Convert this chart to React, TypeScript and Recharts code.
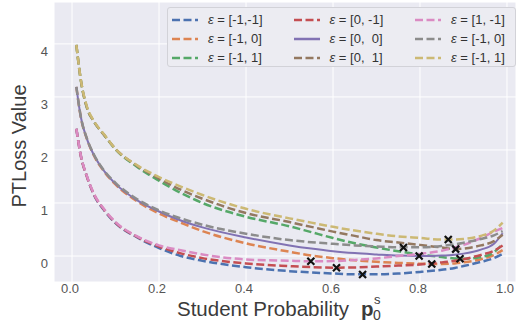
import React from "react";
import { CartesianGrid, ComposedChart, Legend, Line, Scatter, XAxis, YAxis } from "recharts";

const FONT = '"Liberation Sans", Arial, sans-serif';
const DASH = "8 3.5";

// student probability samples
const probs = [0.01, 0.02, 0.035, 0.05, 0.075, 0.1, 0.15, 0.2, 0.25, 0.3, 0.4, 0.5, 0.55, 0.6, 0.65, 0.7, 0.75, 0.8, 0.85, 0.88, 0.9, 0.94, 0.97, 0.99];

const lossBlue = [2.4, 1.9, 1.48, 1.16, 0.85, 0.62, 0.35, 0.15, 0.0, -0.09, -0.21, -0.285, -0.31, -0.33, -0.345, -0.345, -0.33, -0.3, -0.26, -0.225, -0.19, -0.11, -0.04, 0.04];
const lossOrange = [3.19, 2.63, 2.19, 1.9, 1.58, 1.35, 1.03, 0.8, 0.63, 0.47, 0.24, 0.08, 0.01, -0.04, -0.08, -0.11, -0.13, -0.145, -0.15, -0.14, -0.12, -0.06, 0.02, 0.11];
const lossGreen = [3.98, 3.33, 2.78, 2.54, 2.27, 2.01, 1.68, 1.42, 1.19, 1.0, 0.74, 0.56, 0.45, 0.34, 0.24, 0.16, 0.09, 0.03, -0.02, -0.045, -0.05, -0.02, 0.07, 0.23];
const lossRed = [2.4, 1.9, 1.48, 1.17, 0.86, 0.63, 0.36, 0.18, 0.05, -0.04, -0.14, -0.19, -0.21, -0.22, -0.215, -0.2, -0.18, -0.16, -0.12, -0.09, -0.06, 0.02, 0.1, 0.2];
const lossPurple = [3.19, 2.63, 2.19, 1.91, 1.59, 1.36, 1.05, 0.84, 0.67, 0.54, 0.35, 0.2, 0.14, 0.09, 0.055, 0.03, 0.008, 0.0, 0.01, 0.026, 0.045, 0.12, 0.23, 0.43];
const lossBrown = [3.98, 3.33, 2.78, 2.54, 2.27, 2.02, 1.7, 1.46, 1.25, 1.08, 0.81, 0.64, 0.55, 0.46, 0.38, 0.3, 0.255, 0.21, 0.16, 0.13, 0.14, 0.2, 0.28, 0.4];
const lossPink = [2.4, 1.91, 1.49, 1.18, 0.87, 0.64, 0.37, 0.2, 0.11, 0.03, -0.065, -0.09, -0.1, -0.095, -0.075, -0.045, 0.0, 0.04, 0.1, 0.16, 0.21, 0.34, 0.46, 0.53];
const lossGray = [3.19, 2.64, 2.2, 1.92, 1.6, 1.38, 1.07, 0.86, 0.71, 0.59, 0.42, 0.3, 0.26, 0.23, 0.2, 0.18, 0.165, 0.165, 0.19, 0.22, 0.25, 0.32, 0.39, 0.47];
const lossOlive = [3.98, 3.34, 2.8, 2.55, 2.28, 2.02, 1.71, 1.49, 1.31, 1.15, 0.89, 0.71, 0.63, 0.55, 0.48, 0.42, 0.37, 0.34, 0.31, 0.31, 0.32, 0.38, 0.48, 0.63];

// minimum of each curve (x markers), same order as the series
const minProbs = [0.668, 0.827, 0.892, 0.608, 0.798, 0.882, 0.549, 0.762, 0.865];
const minLoss = [-0.35, -0.15, -0.05, -0.22, 0.0, 0.13, -0.1, 0.16, 0.31];

const xTicks = [0, 0.2, 0.4, 0.6, 0.8, 1.0];
const yTicks = [-0.36, 0, 1, 2, 3, 4];

const SERIES = [
  { key: "blue", label: "[-1,-1]", color: "#4C72B0", values: lossBlue },
  { key: "orange", label: "[-1, 0]", color: "#DD8452", values: lossOrange },
  { key: "green", label: "[-1, 1]", color: "#55A868", values: lossGreen },
  { key: "red", label: "[0, -1]", color: "#C44E52", values: lossRed },
  { key: "purple", label: "[0,  0]", color: "#8172B3", values: lossPurple, solid: true },
  { key: "brown", label: "[0,  1]", color: "#937860", values: lossBrown },
  { key: "pink", label: "[1, -1]", color: "#DA8BC3", values: lossPink },
  { key: "gray", label: "[-1, 0]", color: "#8C8C8C", values: lossGray },
  { key: "olive", label: "[-1, 1]", color: "#CCB974", values: lossOlive },
];

const rows = probs.map((p, i) => {
  const row: Record<string, number> = { x: p };
  SERIES.forEach((s) => (row[s.key] = s.values[i]));
  return row;
});

const minima = minProbs.map((p, i) => ({ x: p, m: minLoss[i] }));

const XTick = ({ x, y, payload }: any) => (
  <text x={x - 2} y={y} dy={11} textAnchor="middle" fontSize={13} fill="#555" fontFamily={FONT}>
    {Number(payload.value).toFixed(1)}
  </text>
);

const YTick = ({ x, y, payload }: any) => {
  if (payload.value < -0.1) return <g />;
  return (
    <text x={x - 6} y={y} dy={12} textAnchor="end" fontSize={13} fill="#555" fontFamily={FONT}>
      {payload.value}
    </text>
  );
};

const XTitle = ({ viewBox }: any) => {
  const { x, y } = viewBox;
  return (
    <g fontFamily={FONT} fill="#3b3b3b">
      <text x={x + 123} y={y + 34} fontSize={20.5}>Student Probability</text>
      <text x={x + 307} y={y + 34} fontSize={20.5} fontWeight="bold">p</text>
      <text x={x + 320} y={y + 22} fontSize={13}>s</text>
      <text x={x + 319} y={y + 38} fontSize={14}>0</text>
    </g>
  );
};

const YTitle = ({ viewBox }: any) => {
  const cx = viewBox.x + 25.5;
  const cy = viewBox.y + 144;
  return (
    <text x={cx} y={cy} transform={`rotate(-90, ${cx}, ${cy})`} textAnchor="middle" fontSize={20} fill="#3b3b3b" fontFamily={FONT}>
      PTLoss Value
    </text>
  );
};

const Cross = ({ cx, cy }: any) => (
  <path
    d={`M${cx - 3.5},${cy - 3.5}L${cx + 3.5},${cy + 3.5}M${cx - 3.5},${cy + 3.5}L${cx + 3.5},${cy - 3.5}`}
    stroke="#111"
    strokeWidth={2.2}
  />
);

const LegendBox = () => (
  <div
    style={{
      boxSizing: "border-box",
      width: 349,
      height: 60,
      background: "#ECECF2",
      border: "1px solid #d2d2d8",
      borderRadius: 3,
      padding: "2px 0 0 4px",
      display: "grid",
      gridAutoFlow: "column",
      gridTemplateRows: "repeat(3, 19px)",
      gridTemplateColumns: "repeat(3, 121.5px)",
      fontFamily: FONT,
      fontSize: 13,
      color: "#333",
    }}
  >
    {SERIES.map((s) => (
      <div key={s.key} style={{ display: "flex", alignItems: "center", whiteSpace: "pre" }}>
        <svg width={26} height={8}>
          <line x1={0} y1={4} x2={26} y2={4} stroke={s.color} strokeWidth={2.5} strokeDasharray={s.solid ? undefined : DASH} />
        </svg>
        <span style={{ marginLeft: 10 }}>
          <i>ε</i> = {s.label}
        </span>
      </div>
    ))}
  </div>
);

export default function App() {
  return (
    <div style={{ position: "absolute", left: 0, top: 0, width: 516, height: 327, background: "#fff" }}>
      <ComposedChart width={516} height={327} data={rows} margin={{ top: 2, right: 0, bottom: 0, left: 0 }}>
        <CartesianGrid fill="#EAEAF2" stroke="#fff" strokeWidth={1} />
        <XAxis
          dataKey="x"
          type="number"
          domain={[-0.0414, 1.0207]}
          ticks={xTicks}
          allowDataOverflow
          axisLine={false}
          tickLine={false}
          tickSize={0}
          tickMargin={0}
          height={45}
          tick={<XTick />}
          label={<XTitle />}
        />
        <YAxis
          type="number"
          domain={[-0.49, 4.79]}
          ticks={yTicks}
          allowDataOverflow
          axisLine={false}
          tickLine={false}
          tickSize={0}
          tickMargin={0}
          width={54}
          tick={<YTick />}
          label={<YTitle />}
        />
        {SERIES.map((s) => (
          <Line
            key={s.key}
            type="monotone"
            dataKey={s.key}
            stroke={s.color}
            strokeWidth={s.solid ? 2 : 2.5}
            strokeDasharray={s.solid ? undefined : DASH}
            dot={false}
            activeDot={false}
            isAnimationActive={false}
          />
        ))}
        <Scatter data={minima} dataKey="m" shape={<Cross />} isAnimationActive={false} legendType="none" />
        <Legend
          layout="vertical"
          align="center"
          verticalAlign="middle"
          wrapperStyle={{ left: 167, top: 7, width: 349, height: 60 }}
          content={<LegendBox />}
        />
      </ComposedChart>
    </div>
  );
}
